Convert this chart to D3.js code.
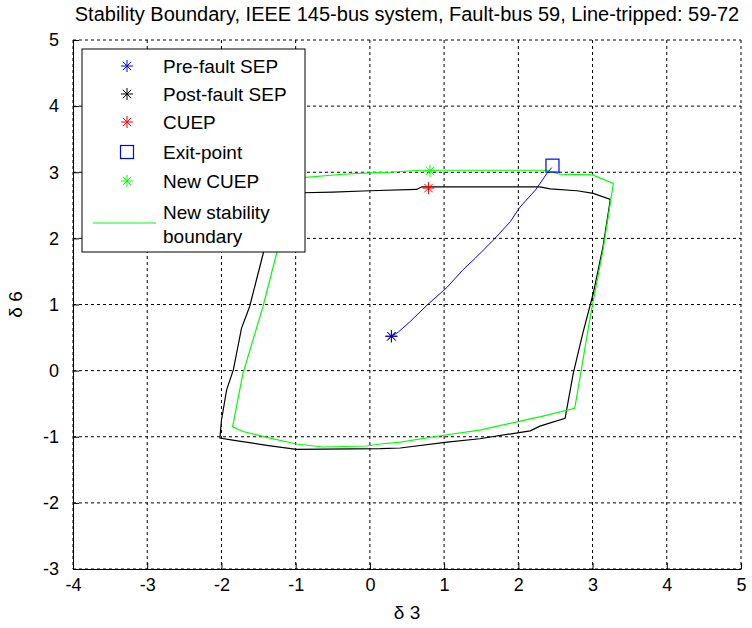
<!DOCTYPE html>
<html>
<head>
<meta charset="utf-8">
<script src="https://cdn.jsdelivr.net/npm/d3@7"></script>
<style>
  body { margin: 0; background: #fff; }
  text { font-family: "Liberation Sans", Arial, sans-serif; fill: #000; }
</style>
</head>
<body>
<div id="chart"></div>
<script>
// axis ticks
const xTicks = [-4, -3, -2, -1, 0, 1, 2, 3, 4, 5];
const yTicks = [-3, -2, -1, 0, 1, 2, 3, 4, 5];

// original (post-fault) stability boundary, black
const oldBoundaryX = [-1.23, -0.90, -0.50, 0.00, 0.63, 0.70, 1.50, 2.29, 2.43, 2.79, 3.01, 3.24, 3.14, 3.01, 2.87, 2.74, 2.63, 2.29, 2.16, 1.48, 1.04, 0.41, 0.14, -0.99, -1.39, -1.85, -2.02, -2.00, -1.93, -1.84, -1.73, -1.62, -1.44, -1.23];
const oldBoundaryY = [2.69, 2.69, 2.70, 2.72, 2.74, 2.78, 2.78, 2.78, 2.75, 2.72, 2.68, 2.59, 1.87, 1.17, 0.57, -0.04, -0.72, -0.84, -0.91, -1.03, -1.08, -1.17, -1.18, -1.19, -1.13, -1.05, -1.02, -0.75, -0.29, 0.01, 0.64, 0.97, 1.76, 2.69];

// new stability boundary, green
const newBoundaryX = [-0.99, -0.36, 0.00, 0.27, 0.67, 1.08, 2.39, 2.56, 3.00, 3.28, 3.14, 2.97, 2.76, 2.29, 2.16, 1.48, 1.04, 0.41, 0.14, -0.04, -0.63, -0.99, -1.39, -1.71, -1.85, -1.71, -1.44, -1.26, -0.99];
const newBoundaryY = [2.91, 2.97, 2.99, 3.00, 3.03, 3.03, 3.03, 2.97, 2.96, 2.83, 1.82, 0.82, -0.57, -0.70, -0.73, -0.90, -0.97, -1.08, -1.11, -1.14, -1.155, -1.11, -1.01, -0.92, -0.85, -0.04, 0.97, 1.76, 2.91];

// fault-on trajectory, blue
const trajX = [0.29, 0.38, 0.54, 0.77, 1.04, 1.25, 1.42, 1.66, 1.89, 2.02, 2.23, 2.39, 2.45];
const trajY = [0.52, 0.58, 0.74, 0.99, 1.26, 1.52, 1.70, 1.97, 2.25, 2.47, 2.73, 2.99, 3.07];

// equilibrium points
const preFaultSEP = [0.29, 0.52];
const postFaultSEP = [0.29, 0.52];
const cuep = [0.79, 2.76];
const exitPoint = [2.46, 3.10];
const newCuep = [0.81, 3.02];

const legendLabels = ["Pre-fault SEP", "Post-fault SEP", "CUEP", "Exit-point", "New CUEP", "New stability", "boundary"];

const W = 752, H = 628;
const margin = { top: 40, right: 11, bottom: 59, left: 73 };
const width = W - margin.left - margin.right;
const height = H - margin.top - margin.bottom;

const root = d3.select("#chart").append("svg")
    .attr("width", W)
    .attr("height", H);

const svg = root.append("g")
    .attr("transform", `translate(${margin.left},${margin.top})`);

const x = d3.scaleLinear().domain([-4, 5]).range([0, width]);
const y = d3.scaleLinear().domain([-3, 5]).range([height, 0]);

// dotted grid (box is off, so top/right edges are grid lines)
svg.append("g").selectAll("line")
    .data(xTicks)
    .enter().append("line")
    .attr("x1", d => x(d)).attr("x2", d => x(d))
    .attr("y1", 0).attr("y2", height)
    .attr("stroke", "#000").attr("stroke-width", 1)
    .attr("stroke-dasharray", "3,3");

svg.append("g").selectAll("line")
    .data(yTicks)
    .enter().append("line")
    .attr("x1", 0).attr("x2", width)
    .attr("y1", d => y(d)).attr("y2", d => y(d))
    .attr("stroke", "#000").attr("stroke-width", 1)
    .attr("stroke-dasharray", "3,3");

// axes, ticks pointing inward, plain hyphen for negatives
const fmt = d => String(d);
const xAxis = svg.append("g")
    .attr("transform", `translate(0,${height})`)
    .call(d3.axisBottom(x).tickValues(xTicks).tickFormat(fmt).tickSizeInner(-6).tickSizeOuter(0).tickPadding(9));
const yAxis = svg.append("g")
    .call(d3.axisLeft(y).tickValues(yTicks).tickFormat(fmt).tickSizeInner(-6).tickSizeOuter(0).tickPadding(14));

[xAxis, yAxis].forEach(a => {
    a.select(".domain").attr("stroke", "#000");
    a.selectAll("text").style("font-size", "18px").attr("font-family", null);
});

const line = d3.line().x(d => x(d[0])).y(d => y(d[1]));

svg.append("path")
    .datum(d3.zip(oldBoundaryX, oldBoundaryY))
    .attr("d", line)
    .attr("fill", "none")
    .attr("stroke", "#000")
    .attr("stroke-width", 1.2);

svg.append("path")
    .datum(d3.zip(newBoundaryX, newBoundaryY))
    .attr("d", line)
    .attr("fill", "none")
    .attr("stroke", "#00ff00")
    .attr("stroke-width", 1.2);

svg.append("path")
    .datum(d3.zip(trajX, trajY))
    .attr("d", line)
    .attr("fill", "none")
    .attr("stroke", "#0000ff")
    .attr("stroke-width", 1);

// matlab '*' marker
function starPath(r) {
    const k = r * 0.7;
    return `M${-r},0L${r},0M0,${-r}L0,${r}M${-k},${-k}L${k},${k}M${-k},${k}L${k},${-k}`;
}

function star(g, cx, cy, color) {
    g.append("path")
        .attr("transform", `translate(${cx},${cy})`)
        .attr("d", starPath(6))
        .attr("fill", "none")
        .attr("stroke", color)
        .attr("stroke-width", 1);
}

function square(g, cx, cy, color) {
    g.append("rect")
        .attr("x", cx - 6.5).attr("y", cy - 6.5)
        .attr("width", 13).attr("height", 13)
        .attr("fill", "none")
        .attr("stroke", color)
        .attr("stroke-width", 1.2);
}

star(svg, x(postFaultSEP[0]), y(postFaultSEP[1]), "#000");
star(svg, x(preFaultSEP[0]), y(preFaultSEP[1]), "#0000ff");
star(svg, x(cuep[0]), y(cuep[1]), "#ff0000");
square(svg, x(exitPoint[0]), y(exitPoint[1]), "#0000ff");
star(svg, x(newCuep[0]), y(newCuep[1]), "#00ff00");

// title and axis labels
root.append("text")
    .attr("x", margin.left + width / 2)
    .attr("y", 21)
    .attr("text-anchor", "middle")
    .style("font-size", "20px")
    .text("Stability Boundary, IEEE 145-bus system, Fault-bus 59, Line-tripped: 59-72");

root.append("text")
    .attr("x", margin.left + width / 2)
    .attr("y", 619)
    .attr("text-anchor", "middle")
    .style("font-size", "19px")
    .text("δ 3");

root.append("text")
    .attr("transform", `translate(22,${margin.top + height / 2}) rotate(-90)`)
    .attr("text-anchor", "middle")
    .style("font-size", "19px")
    .text("δ 6");

// legend
const legend = root.append("g");
legend.append("rect")
    .attr("x", 82).attr("y", 49)
    .attr("width", 223).attr("height", 203)
    .attr("fill", "#fff")
    .attr("stroke", "#000")
    .attr("stroke-width", 1);

const rowY = [66, 94, 122, 152, 181, 212, 236];
const markerX = 127, textX = 163;
star(legend, markerX, rowY[0], "#0000ff");
star(legend, markerX, rowY[1], "#000");
star(legend, markerX, rowY[2], "#ff0000");
square(legend, markerX, rowY[3], "#0000ff");
star(legend, markerX, rowY[4], "#00ff00");
legend.append("line")
    .attr("x1", 93).attr("x2", 156)
    .attr("y1", 223).attr("y2", 223)
    .attr("stroke", "#00ff00")
    .attr("stroke-width", 1.2);

legend.selectAll("text.legend")
    .data(legendLabels)
    .enter().append("text")
    .attr("class", "legend")
    .attr("x", textX)
    .attr("y", (d, i) => rowY[i])
    .attr("dy", "0.36em")
    .style("font-size", "19px")
    .text(d => d);
</script>
</body>
</html>
